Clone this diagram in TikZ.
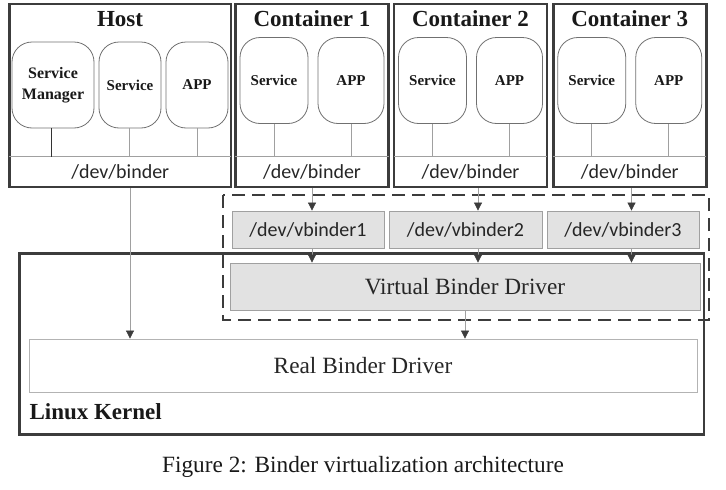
\documentclass[tikz,border=0pt]{standalone}
\usepackage{fontspec}
\setmainfont{Liberation Serif}
\newfontfamily\devfont{Carlito}
\usetikzlibrary{arrows.meta}

\definecolor{boxline}{HTML}{3C3C3C}
\definecolor{thinline}{HTML}{A0A0A0}
\definecolor{procline}{HTML}{707070}
\definecolor{vfill}{HTML}{E2E2E2}

\newcommand\titlefont{\bfseries\fontsize{23}{24}\selectfont}
\newcommand\procfont{\bfseries\fontsize{15}{21}\selectfont}
\newcommand\drvfont{\fontsize{23.3}{24}\selectfont}
\newcommand\binderfont{\devfont\fontsize{20}{22}\selectfont}

\tikzset{
    outerbox/.style = {draw=boxline, line width=2.6pt, minimum height=183pt},
    procbox/.style  = {draw=procline, line width=0.8pt, rounded corners=20pt,
                       minimum height=86pt, text=black!90, font=\procfont, align=center},
    devbox/.style   = {minimum height=30pt, font=\binderfont, text=black!85},
    vbox/.style     = {draw=thinline, fill=vfill, line width=0.8pt, minimum height=37pt,
                       font=\binderfont, text=black!85},
    link/.style     = {draw=thinline, line width=0.7pt},
    arr/.style      = {link, -{Triangle[width=8pt,length=8pt,color=boxline]}},
}

\begin{document}
\begin{tikzpicture}[x=1pt, y=-1pt]
    \useasboundingbox (0,0) rectangle (726,490);

    % kernel and virtual binder area
    \node[outerbox, minimum width=684.5pt, minimum height=181pt](kernel) at (361.75,344) {};
    \node[anchor=west, font=\titlefont, text=black!90](kernelT) at (26,412) {Linux Kernel};
    \draw[boxline, line width=2.8pt, dash pattern=on 13pt off 7pt] (223,195) rectangle (709,320);

    % host
    \node[outerbox, minimum width=221.5pt](host) at (120.25,95.5) {};
    \node[font=\titlefont, text=black!90](hostT) at (120,19) {Host};
    \node[procbox, minimum width=82pt](hostSM) at (53,85) {\fontsize{16}{21}\selectfont Service\\\fontsize{16}{21}\selectfont Manager};
    \node[procbox, minimum width=62pt](hostS) at (130,85) {Service};
    \node[procbox, minimum width=62pt](hostA) at (197,85) {APP};
    \node[devbox, minimum width=221.5pt](hostB) at (120.25,172) {/dev/binder};
    \draw[link] (hostB.north west) -- (hostB.north east);
    \draw[link, draw=black!80] (hostSM.south -| 51,0) -- (hostB.north -| 51,0);
    \draw[link] (hostS.south -| 129,0) -- (hostB.north -| 129,0);
    \draw[link] (hostA.south) -- (hostA.south |- hostB.north);

    % containers
    \foreach \i/\x in {1/312, 2/470.5, 3/629.75} {
        \node[outerbox, minimum width=153pt](box\i) at (\x,95.5) {};
        \node[font=\titlefont, text=black!90](title\i) at (\x,18.5) {Container \i};
        \node[procbox, minimum width=68pt](serv\i) at (\x-38,80.5) {Service};
        \node[procbox, minimum width=66pt](app\i) at (\x+39,80.5) {APP};
        \node[devbox, minimum width=153pt](bind\i) at (\x,172) {/dev/binder};
        \draw[link] (bind\i.north west) -- (bind\i.north east);
        \draw[link] (serv\i.south) -- (serv\i.south |- bind\i.north);
        \draw[link] (app\i.south) -- (app\i.south |- bind\i.north);
    }

    % virtual binder devices
    \node[vbox, minimum width=152pt](vb1) at (308,229.5) {/dev/vbinder1};
    \node[vbox, minimum width=153pt](vb2) at (465.5,229.5) {/dev/vbinder2};
    \node[vbox, minimum width=152pt](vb3) at (623,229.5) {/dev/vbinder3};
    \node[vbox, minimum width=470pt, minimum height=47pt, font=\drvfont, text=black!85](vbd) at (465,286.5) {Virtual Binder Driver};
    \node[draw=thinline!80, line width=0.8pt, minimum width=668pt, minimum height=53pt,
          font=\drvfont, text=black!85](real) at (363,365.5) {Real Binder Driver};

    \foreach \i/\x in {1/312, 2/478, 3/631.5} {
        \coordinate (down\i) at (\x,188);
        \draw[arr] (down\i) -- (down\i |- vb\i.north);
        \draw[arr] (down\i |- vb\i.south) -- (down\i |- vbd.north);
    }
    \draw[arr] (vbd.south) -- (vbd.south |- real.north);
    \coordinate (hostdown) at (130,188);
    \draw[arr] (hostdown) -- (hostdown |- real.north);

    \node[font=\drvfont, text=black!90](caption) at (363,467) {Figure 2: Binder virtualization architecture};
\end{tikzpicture}
\end{document}
